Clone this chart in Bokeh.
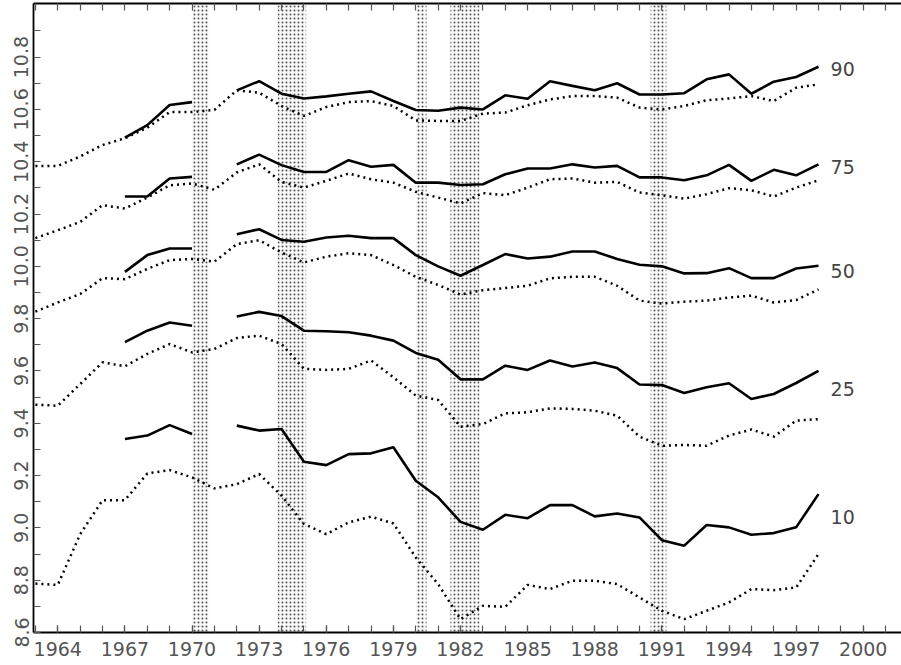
import math
from bokeh.plotting import figure
from bokeh.models import (ColumnDataSource, FixedTicker, LinearAxis, Range1d)
from bokeh.core.properties import value
from bokeh.embed import file_html
from bokeh.resources import INLINE

nan = float("nan")

# ---- data -------------------------------------------------------------
years_all = list(range(1963, 1999))          # dotted series
years_cur = list(range(1967, 1999))          # solid series (gap in 1971)

p90_solid = [10.492, 10.54, 10.617, 10.628, nan, 10.673, 10.708, 10.66, 10.642, 10.65,
             10.66, 10.669, 10.632, 10.598, 10.595, 10.607, 10.60, 10.654, 10.641, 10.708,
             10.69, 10.673, 10.70, 10.657, 10.657, 10.662, 10.715, 10.734, 10.66, 10.706,
             10.724, 10.763]
p90_dotted = [10.384, 10.384, 10.42, 10.464, 10.49, 10.53, 10.59, 10.59, 10.598, 10.673,
              10.664, 10.613, 10.575, 10.609, 10.628, 10.632, 10.613, 10.558, 10.556, 10.556,
              10.584, 10.588, 10.616, 10.638, 10.651, 10.651, 10.645, 10.607, 10.60, 10.613,
              10.635, 10.642, 10.651, 10.632, 10.683, 10.696]

p75_solid = [10.267, 10.267, 10.336, 10.342, nan, 10.39, 10.427, 10.387, 10.361, 10.361,
             10.406, 10.381, 10.388, 10.32, 10.32, 10.311, 10.314, 10.352, 10.374, 10.374,
             10.39, 10.378, 10.384, 10.34, 10.34, 10.329, 10.348, 10.388, 10.327, 10.369,
             10.348, 10.39]
p75_dotted = [10.108, 10.138, 10.17, 10.234, 10.221, 10.263, 10.31, 10.317, 10.293, 10.359,
              10.39, 10.323, 10.301, 10.327, 10.355, 10.333, 10.32, 10.285, 10.263, 10.241,
              10.28, 10.272, 10.301, 10.333, 10.336, 10.32, 10.323, 10.282, 10.272, 10.259,
              10.276, 10.299, 10.291, 10.267, 10.301, 10.329]

p50_solid = [9.979, 10.043, 10.068, 10.068, nan, 10.123, 10.142, 10.101, 10.094, 10.11,
             10.117, 10.108, 10.108, 10.043, 10.0, 9.964, 10.005, 10.047, 10.03, 10.037,
             10.057, 10.057, 10.028, 10.006, 10.0, 9.973, 9.974, 9.993, 9.955, 9.955,
             9.992, 10.002]
p50_dotted = [9.827, 9.862, 9.894, 9.955, 9.951, 9.99, 10.024, 10.028, 10.018, 10.085,
              10.1, 10.053, 10.015, 10.037, 10.05, 10.043, 10.005, 9.96, 9.929, 9.892,
              9.909, 9.917, 9.926, 9.954, 9.96, 9.96, 9.926, 9.869, 9.858, 9.865,
              9.869, 9.881, 9.888, 9.862, 9.871, 9.912]

p25_solid = [9.71, 9.754, 9.785, 9.773, nan, 9.808, 9.826, 9.81, 9.754, 9.752,
             9.748, 9.735, 9.716, 9.669, 9.643, 9.568, 9.568, 9.62, 9.604, 9.64,
             9.617, 9.632, 9.611, 9.548, 9.546, 9.516, 9.538, 9.553, 9.493, 9.512,
             9.554, 9.6]
p25_dotted = [9.471, 9.467, 9.55, 9.633, 9.618, 9.665, 9.703, 9.671, 9.684, 9.726,
              9.735, 9.703, 9.608, 9.604, 9.608, 9.64, 9.576, 9.506, 9.489, 9.387,
              9.397, 9.438, 9.442, 9.457, 9.455, 9.448, 9.429, 9.349, 9.314, 9.317,
              9.314, 9.353, 9.376, 9.349, 9.41, 9.416]

p10_solid = [9.34, 9.353, 9.393, 9.359, nan, 9.391, 9.372, 9.378, 9.253, 9.24,
             9.282, 9.285, 9.308, 9.18, 9.117, 9.023, 8.993, 9.05, 9.037, 9.087,
             9.087, 9.044, 9.055, 9.04, 8.953, 8.932, 9.011, 9.002, 8.974, 8.98,
             9.002, 9.129]
p10_dotted = [8.787, 8.782, 8.976, 9.106, 9.106, 9.208, 9.221, 9.193, 9.151, 9.167,
              9.206, 9.123, 9.015, 8.976, 9.021, 9.043, 9.017, 8.887, 8.785, 8.651,
              8.702, 8.698, 8.782, 8.766, 8.798, 8.798, 8.785, 8.734, 8.683, 8.651,
              8.683, 8.715, 8.766, 8.762, 8.772, 8.9]

# recession bands (start, end in years)
band_start = [1970.0, 1973.83, 1980.03, 1981.55, 1990.5]
band_end = [1970.75, 1975.10, 1980.48, 1982.85, 1991.2]

# percentile labels
pct_labels = ["90", "75", "50", "25", "10"]
pct_label_x = [1998.54] * 5
pct_label_y = [10.755, 10.379, 9.983, 9.531, 9.04]

# ticks
x_major = list(range(1964, 2001, 3))
x_minor = list(range(1963, 2002))
y_major = [round(8.6 + 0.2 * i, 1) for i in range(12)]
y_labels = ["8.6", "8.8", "9.0", "9.2", "9.4", "9.6", "9.8", "10.0", "10.2", "10.4", "10.6", "10.8"]
y_minor = [round(8.7 + 0.2 * i, 1) for i in range(12)]

# ---- figure -----------------------------------------------------------
FONT = "DejaVu Sans"
X0, X1 = 1962.914, 2001.71
Y0, Y1 = 8.6, 11.005

p = figure(width=901, height=665, x_range=Range1d(X0, X1), y_range=Range1d(Y0, Y1),
           output_backend="svg", toolbar_location=None,
           min_border_left=33, min_border_right=0, min_border_top=3, min_border_bottom=33,
           x_axis_type=None, y_axis_type=None)
p.outline_line_color = None
p.xgrid.visible = False
p.ygrid.visible = False
p.background_fill_color = "white"

# recession bands
band_src = ColumnDataSource(dict(left=band_start, right=band_end,
                                 bottom=[Y0] * len(band_start), top=[Y1] * len(band_start)))
p.quad(left="left", right="right", bottom="bottom", top="top", source=band_src,
       fill_color="#fafafa", line_color=None,
       hatch_pattern="dot", hatch_scale=4, hatch_color="#555555", hatch_weight=0.6)

def add_series(solid, dotted):
    p.line(years_cur, solid, line_color="black", line_width=2.6)
    p.line(years_all, dotted, line_color="black", line_width=2.5, line_dash="2 4")

for s, d in [(p90_solid, p90_dotted), (p75_solid, p75_dotted), (p50_solid, p50_dotted),
             (p25_solid, p25_dotted), (p10_solid, p10_dotted)]:
    add_series(s, d)

p.text(x=pct_label_x, y=pct_label_y, text=pct_labels, text_font=value(FONT),
       text_font_size="19px", text_color="#444444", text_baseline="middle", text_align="left")

def style_axis(ax):
    ax.axis_line_color = "black"
    ax.axis_line_width = 1.8
    ax.major_tick_in = 7
    ax.major_tick_out = 0
    ax.minor_tick_in = 7
    ax.minor_tick_out = 0
    ax.major_tick_line_color = "#555555"
    ax.minor_tick_line_color = "#555555"
    ax.major_tick_line_width = 1.2
    ax.minor_tick_line_width = 1.2
    ax.major_label_text_font = FONT
    ax.major_label_text_font_size = "19px"
    ax.major_label_text_color = "#555555"

xaxis = LinearAxis(ticker=FixedTicker(ticks=x_major, minor_ticks=x_minor))
style_axis(xaxis)
xaxis.major_label_standoff = 9
p.add_layout(xaxis, "below")

# top frame: minor ticks only, so no labels are drawn
topaxis = LinearAxis(ticker=FixedTicker(ticks=[], minor_ticks=x_minor))
style_axis(topaxis)
topaxis.major_label_standoff = 0
p.add_layout(topaxis, "above")

yaxis = LinearAxis(ticker=FixedTicker(ticks=y_major, minor_ticks=y_minor))
style_axis(yaxis)
yaxis.major_label_orientation = "vertical"
yaxis.major_label_standoff = 5
yaxis.major_label_overrides = {t: l for t, l in zip(y_major, y_labels)}
p.add_layout(yaxis, "left")

open("out.html", "w").write(file_html(p, INLINE))
